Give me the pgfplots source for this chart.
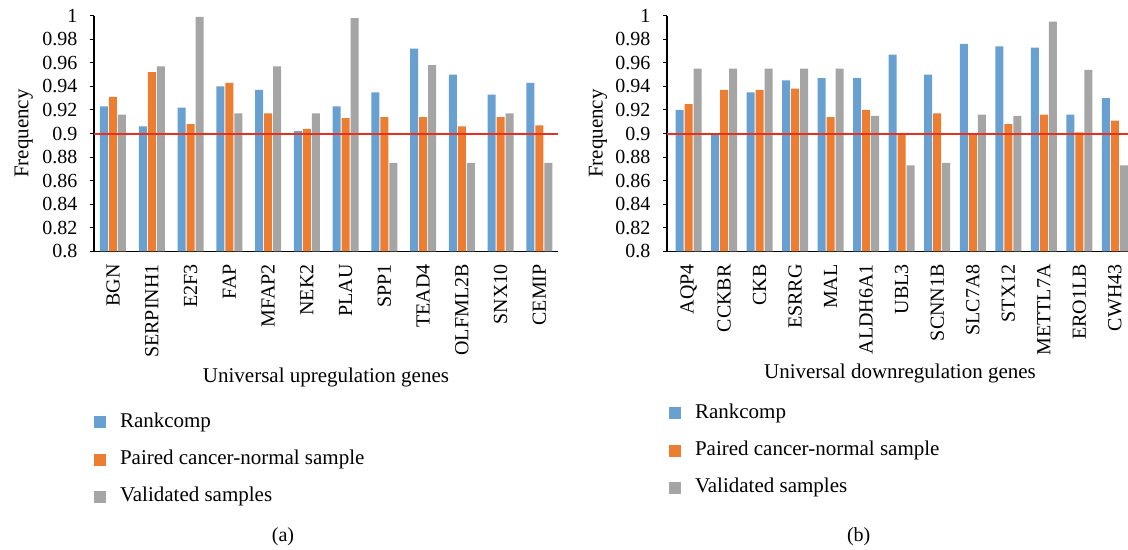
\documentclass[border=0pt]{standalone}
\usepackage{fontspec}
\setmainfont{Liberation Serif}
\usepackage{pgfplots}
\pgfplotsset{compat=1.18}
\usepackage{pgfplotstable}
\definecolor{cblue}{RGB}{104,160,210}
\definecolor{corange}{RGB}{237,125,49}
\definecolor{cgray}{RGB}{165,165,165}
\definecolor{cred}{RGB}{232,48,30}

\pgfplotstableread{
x r p v
0  0.923 0.931 0.916
1  0.906 0.952 0.957
2  0.922 0.908 0.999
3  0.940 0.943 0.917
4  0.937 0.917 0.957
5  0.902 0.904 0.917
6  0.923 0.913 0.998
7  0.935 0.914 0.875
8  0.972 0.914 0.958
9  0.950 0.906 0.875
10 0.933 0.914 0.917
11 0.943 0.907 0.875
}\upgenes

\pgfplotstableread{
x r p v
0  0.920 0.925 0.955
1  0.899 0.937 0.955
2  0.935 0.937 0.955
3  0.945 0.938 0.955
4  0.947 0.914 0.955
5  0.947 0.920 0.915
6  0.967 0.900 0.873
7  0.950 0.917 0.875
8  0.976 0.900 0.916
9  0.974 0.908 0.915
10 0.973 0.916 0.995
11 0.916 0.901 0.954
12 0.930 0.911 0.873
}\downgenes

\pgfplotsset{
  panel/.style={
    scale only axis, height=117.8pt, ymin=0.8, ymax=1,
    axis x line=bottom, axis y line=left,
    axis line style={-, black, line width=0.6pt},
    ytick={0.8,0.82,0.84,0.86,0.88,0.9,0.92,0.94,0.96,0.98,1},
    tick align=outside, major tick length=2pt,
    ytick style={black, line width=0.5pt}, xtick style={draw=none},
    tick label style={font=\fontsize{10}{12}\selectfont, /pgf/number format/assume math mode=true},
    yticklabel style={inner sep=0pt, xshift=-6.15pt},
    xticklabel style={rotate=90, anchor=east, inner sep=4.35pt},
    label style={font=\fontsize{10.5}{12.6}\selectfont},
    ylabel={Frequency},
    legend style={draw=none, fill=none, inner sep=0pt, outer sep=0pt, anchor=north west,
      row sep=9.4pt, column sep=7pt, font=\fontsize{10.5}{12.6}\selectfont,
      nodes={inner sep=0pt, text height=7.2pt, text depth=2pt, anchor=west}},
    legend cell align=left,
  },
  bl/.style={ybar, bar width=4pt, bar shift=-4.5pt, fill=cblue, draw=none,
    legend image code/.code={\fill[cblue] (0pt,-3pt) rectangle (6pt,3pt);}},
  bo/.style={ybar, bar width=4pt, bar shift=0pt, fill=corange, draw=none,
    legend image code/.code={\fill[corange] (0pt,-3pt) rectangle (6pt,3pt);}},
  bg/.style={ybar, bar width=4pt, bar shift=4.5pt, fill=cgray, draw=none,
    legend image code/.code={\fill[cgray] (0pt,-3pt) rectangle (6pt,3pt);}},
}

\begin{document}
\begin{tikzpicture}
\useasboundingbox (0,0) rectangle (564pt,-275pt);

\begin{axis}[panel, at={(47pt,-125.65pt)}, anchor=south west, width=232pt,
  xmin=-0.49, xmax=11.48,
  xtick={0,...,11},
  xticklabels={BGN,SERPINH1,E2F3,FAP,MFAP2,NEK2,PLAU,SPP1,TEAD4,OLFML2B,SNX10,CEMIP},
  xlabel={Universal upregulation genes},
  xlabel style={at={(axis description cs:0.5,-0.5365)}, anchor=center},
  ylabel style={at={(axis description cs:-0.1416,0.5)}, anchor=base},
  legend style={at={(axis description cs:0,-0.6868)}},
]
\addplot[bl] table[x=x,y=r] {\upgenes};
\addlegendentry{Rankcomp}
\addplot[bo] table[x=x,y=p] {\upgenes};
\addlegendentry{Paired cancer-normal sample}
\addplot[bg] table[x=x,y=v] {\upgenes};
\addlegendentry{Validated samples}
\addplot[forget plot, cred, line width=1pt] coordinates {(-0.49,0.9) (11.48,0.9)};
\end{axis}

\begin{axis}[panel, at={(333.5pt,-125.65pt)}, anchor=south west, width=233pt,
  xmin=-0.605, xmax=12.51,
  xtick={0,...,12},
  xticklabels={AQP4,CCKBR,CKB,ESRRG,MAL,ALDH6A1,UBL3,SCNN1B,SLC7A8,STX12,METTL7A,ERO1LB,CWH43},
  xlabel={Universal downregulation genes},
  xlabel style={at={(axis description cs:0.5,-0.518)}, anchor=center},
  ylabel style={at={(axis description cs:-0.138,0.5)}, anchor=base},
  legend style={at={(axis description cs:0.0043,-0.6486)}},
]
\addplot[bl] table[x=x,y=r] {\downgenes};
\addlegendentry{Rankcomp}
\addplot[bo] table[x=x,y=p] {\downgenes};
\addlegendentry{Paired cancer-normal sample}
\addplot[bg] table[x=x,y=v] {\downgenes};
\addlegendentry{Validated samples}
\addplot[forget plot, cred, line width=1pt] coordinates {(-0.605,0.9) (12.51,0.9)};
\end{axis}

\node[font=\fontsize{10}{12}\selectfont] at (141.5pt,-268.35pt) {(a)};
\node[font=\fontsize{10}{12}\selectfont] at (429.35pt,-268.35pt) {(b)};
\end{tikzpicture}
\end{document}
